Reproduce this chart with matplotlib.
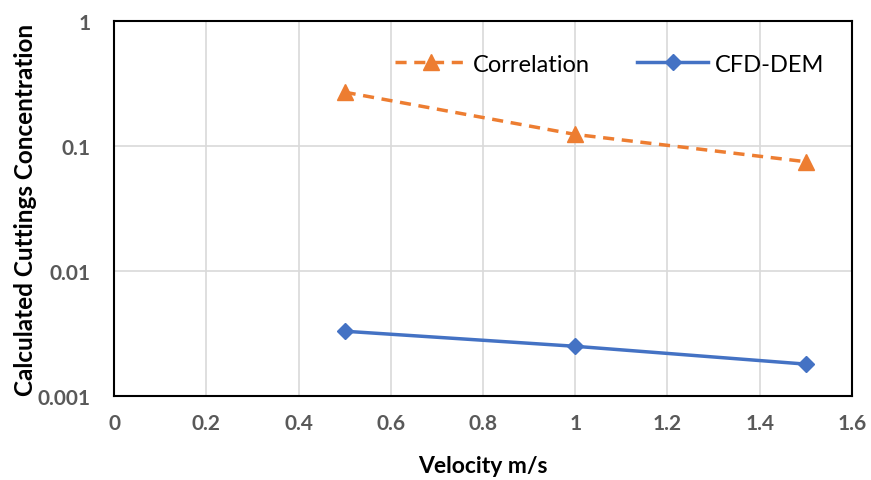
import matplotlib.pyplot as plt
import numpy as np

# values
velocity = [0.5, 1.0, 1.5]
correlation = [0.27, 0.124, 0.075]
cfd_dem = [0.0033, 0.0025, 0.0018]

x_ticks = [0, 0.2, 0.4, 0.6, 0.8, 1.0, 1.2, 1.4, 1.6]
x_tick_labels = ["0", "0.2", "0.4", "0.6", "0.8", "1", "1.2", "1.4", "1.6"]
y_ticks = [0.001, 0.01, 0.1, 1]
y_tick_labels = ["0.001", "0.01", "0.1", "1"]

plt.rcParams['font.family'] = ['Lato', 'DejaVu Sans']

fig = plt.figure(figsize=(8.71, 4.81), dpi=100)
ax = fig.add_axes([0.131, 0.1746, 0.847, 0.7794])

ax.plot(velocity, correlation, "--", color="#ED7D31", lw=2.5,
        dashes=(3.2, 2.2), marker="^", ms=11, label="Correlation")
ax.plot(velocity, cfd_dem, "-", color="#4472C4", lw=2.5,
        marker="D", ms=8.5, label="CFD-DEM")

ax.set_yscale("log")
ax.set_xlim(0, 1.6)
ax.set_ylim(0.001, 1)
ax.set_xticks(x_ticks)
ax.set_xticklabels(x_tick_labels)
ax.set_yticks(y_ticks)
ax.set_yticklabels(y_tick_labels)
ax.minorticks_off()

ax.grid(True, color="#D9D9D9", lw=1.2)
ax.set_axisbelow(True)
for s in ax.spines.values():
    s.set_color("black")
    s.set_linewidth(1.5)

ax.tick_params(length=0, labelsize=15, labelcolor="#595959")
ax.tick_params(axis="x", pad=12)
ax.tick_params(axis="y", pad=17)
for t in ax.get_xticklabels() + ax.get_yticklabels():
    t.set_fontweight("bold")

ax.set_xlabel("Velocity m/s", fontsize=16.5, fontweight="bold", labelpad=16)
ax.set_ylabel("Calculated Cuttings Concentration", fontsize=17.5,
              fontweight="bold", labelpad=0)

ax.legend(loc="center", bbox_to_anchor=(0.672, 0.885), ncol=2,
          frameon=False, fontsize=17, handlelength=3.0, columnspacing=2.0,
          handletextpad=0.3)

plt.savefig("out.png", dpi=100)
